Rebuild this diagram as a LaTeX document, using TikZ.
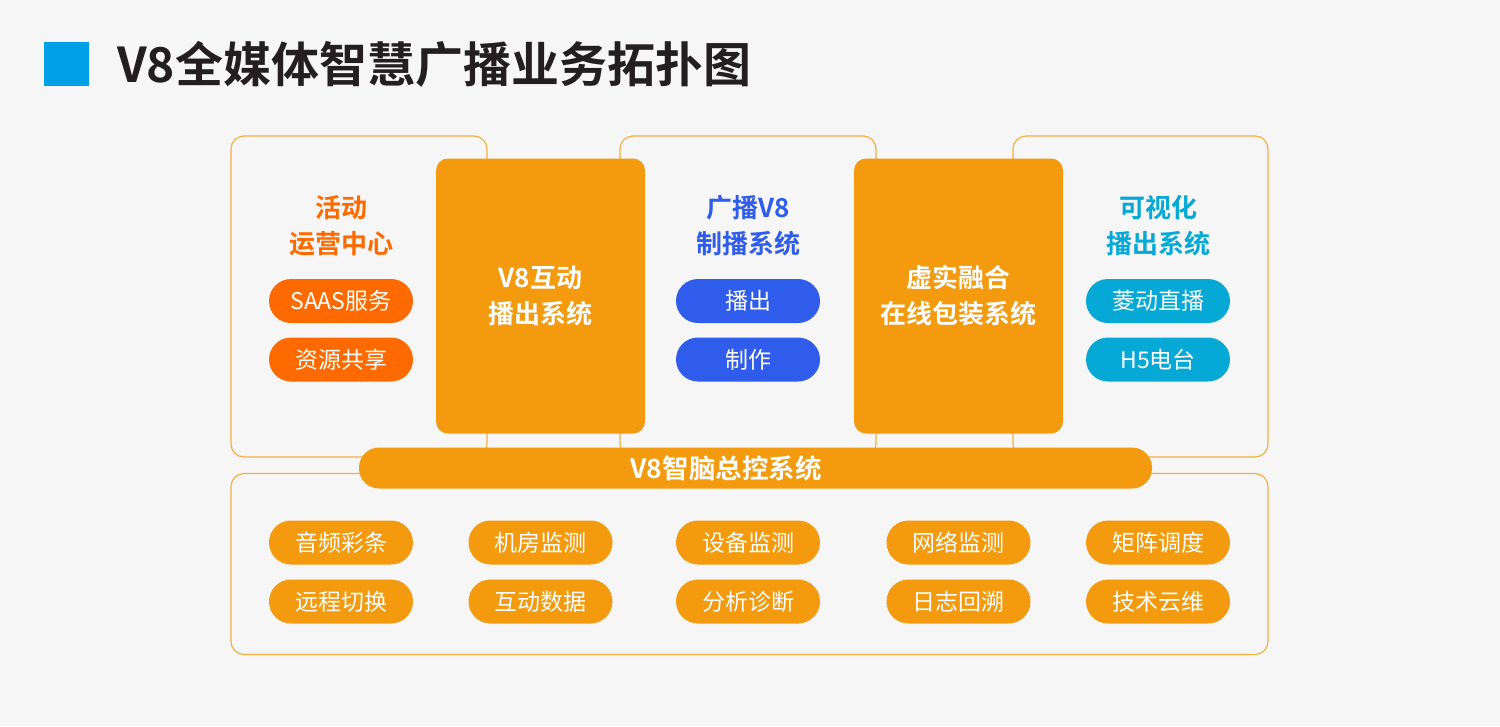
\documentclass[tikz,border=0pt]{standalone}
\usepackage{fontspec}
\setmainfont{Noto Sans CJK SC}[BoldFont=* Bold]
\definecolor{bg}{HTML}{F6F6F6}
\definecolor{boxline}{HTML}{F5B043}
\definecolor{orng}{HTML}{F39A0F}
\definecolor{redor}{HTML}{FF6A00}
\definecolor{blu}{HTML}{2F5CEB}
\definecolor{cyn}{HTML}{06A9D6}
\definecolor{ttl}{HTML}{231F20}
\definecolor{sq}{HTML}{00A0E9}
\begin{document}
\begin{tikzpicture}[x=1pt,y=-1pt,
  frame/.style={draw=boxline, line width=1.2pt, rounded corners=13pt, minimum width=256pt, inner sep=0pt},
  bigbox/.style={fill=orng, rounded corners=12pt, minimum width=209pt, minimum height=275pt, text=white, align=center, font=\bfseries\fontsize{26}{36}\selectfont, inner sep=0pt},
  pill/.style={rounded corners=22pt, minimum width=144pt, minimum height=44pt, text=white, font=\fontsize{23}{23}\selectfont, inner sep=0pt},
  head/.style={align=center, font=\bfseries\fontsize{26}{36}\selectfont, inner sep=0pt}]
\useasboundingbox (0,0) rectangle (1500,726);
\fill[bg] (0,0) rectangle (1500,726);
% title
\node[fill=sq, minimum width=45pt, minimum height=44pt, inner sep=0pt] (sqr) at (66.5,64) {};
\node[anchor=west, text=ttl, font=\bfseries\fontsize{48}{48}\selectfont, inner sep=0pt] (title) at (117,64) {V8全媒体智慧广播业务拓扑图};
% frames
\node[frame, minimum height=321pt] (f1) at (359,296.5) {};
\node[frame, minimum height=321pt] (f2) at (748,296.5) {};
\node[frame, minimum width=255pt, minimum height=321pt] (f3) at (1140.5,296.5) {};
\node[frame, minimum width=1037pt, minimum height=181pt] (f4) at (749.5,564) {};
% big orange boxes
\node[bigbox] (b1) at (540.5,296) {V8互动\\播出系统};
\node[bigbox] (b2) at (958.5,296) {虚实融合\\在线包装系统};
% bar
\node[fill=orng, rounded corners=20pt, minimum width=793pt, minimum height=41pt, inner sep=0pt] (bar) at (755.5,468) {};
\node[text=white, font=\bfseries\fontsize{26.5}{26.5}\selectfont, inner sep=0pt] (bart) at (726,468) {V8智脑总控系统};
% headers
\node[head, text=redor] (h1) at (341,226) {活动\\运营中心};
\node[head, text=blu] (h2) at (748,226) {广播V8\\制播系统};
\node[head, text=cyn] (h3) at (1158,226) {可视化\\播出系统};
% top pills
\node[pill, fill=redor] (p11) at (341,301) {SAAS服务};
\node[pill, fill=redor] (p12) at (341,359.5) {资源共享};
\node[pill, fill=blu] (p21) at (748,301) {播出};
\node[pill, fill=blu] (p22) at (748,359.5) {制作};
\node[pill, fill=cyn] (p31) at (1158,301) {菱动直播};
\node[pill, fill=cyn] (p32) at (1158,359.5) {H5电台};
% bottom pills
\node[pill, fill=orng] (q11) at (341,542.5) {音频彩条};
\node[pill, fill=orng] (q12) at (341,601.5) {远程切换};
\node[pill, fill=orng] (q21) at (540.5,542.5) {机房监测};
\node[pill, fill=orng] (q22) at (540.5,601.5) {互动数据};
\node[pill, fill=orng] (q31) at (748,542.5) {设备监测};
\node[pill, fill=orng] (q32) at (748,601.5) {分析诊断};
\node[pill, fill=orng] (q41) at (958.5,542.5) {网络监测};
\node[pill, fill=orng] (q42) at (958.5,601.5) {日志回溯};
\node[pill, fill=orng] (q51) at (1158,542.5) {矩阵调度};
\node[pill, fill=orng] (q52) at (1158,601.5) {技术云维};
\end{tikzpicture}
\end{document}
